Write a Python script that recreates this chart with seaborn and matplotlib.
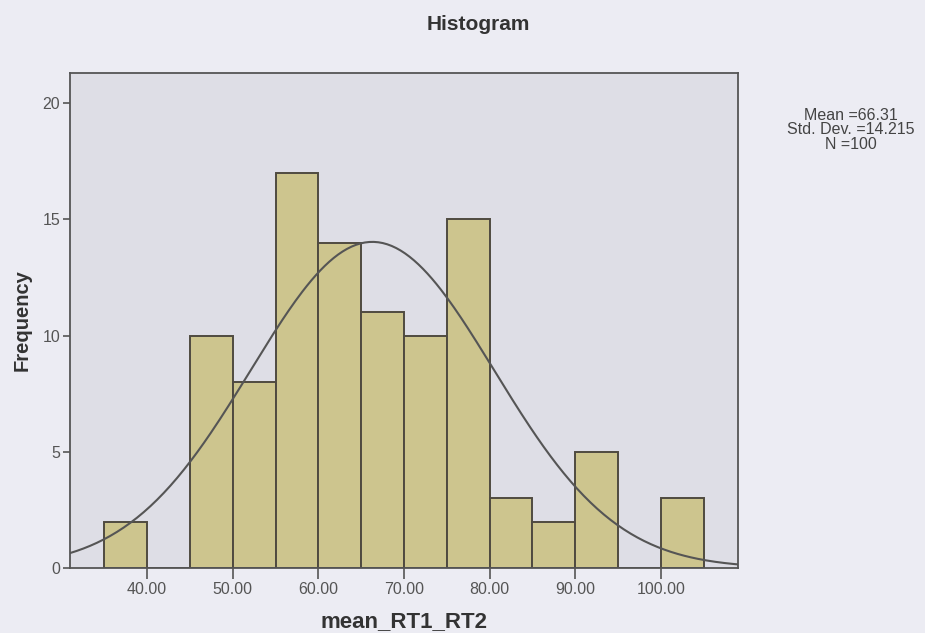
import numpy as np
import pandas as pd
import matplotlib
matplotlib.use('Agg')
import matplotlib.pyplot as plt
import seaborn as sns

# bin edges (width 5) and the frequency in each bin
bin_edges = [35, 40, 45, 50, 55, 60, 65, 70, 75, 80, 85, 90, 95, 100, 105]
counts = [2, 0, 10, 8, 17, 14, 11, 10, 15, 3, 2, 5, 0, 3]
x_ticks = [40, 50, 60, 70, 80, 90, 100]
y_ticks = [0, 5, 10, 15, 20]

mean_val = 66.31
std_val = 14.215
n_val = 100

sns.set_style('white')
plt.rcParams['font.family'] = ['Liberation Sans', 'DejaVu Sans']

bin_width = bin_edges[1] - bin_edges[0]
centers = [e + bin_width / 2 for e in bin_edges[:-1]]
df = pd.DataFrame({'mean_RT1_RT2': centers, 'count': counts})

fig = plt.figure(figsize=(9.25, 6.33), dpi=100, facecolor='#ececf3')
ax = fig.add_axes([0.0757, 0.1027, 0.7221, 0.782])
ax.set_facecolor('#dedee6')

sns.histplot(data=df, x='mean_RT1_RT2', weights='count', bins=bin_edges,
             color='#cdc58e', alpha=1, edgecolor='#4f4a40', linewidth=1.4, ax=ax)

# fitted normal curve, scaled to counts
xs = np.linspace(31, 109, 300)
ys = n_val * bin_width / (std_val * np.sqrt(2 * np.pi)) * np.exp(-0.5 * ((xs - mean_val) / std_val) ** 2)
sns.lineplot(x=xs, y=ys, color='#555555', linewidth=1.5, ax=ax)

ax.set_xlim(31, 109)
ax.set_ylim(0, 21.3)
ax.set_xticks(x_ticks)
ax.set_xticklabels([f'{t:.2f}' for t in x_ticks])
ax.set_yticks(y_ticks)
ax.tick_params(axis='both', direction='out', width=1.2, color='#555555',
               labelsize=11.5, labelcolor='#555555', bottom=True, left=True)
ax.tick_params(axis='x', length=8, pad=2)
ax.tick_params(axis='y', length=5, pad=2)

for s in ax.spines.values():
    s.set_color('#555555')
    s.set_linewidth(1.3)

ax.set_xlabel('mean_RT1_RT2', fontsize=16, fontweight='bold', color='#333333', labelpad=10)
ax.set_ylabel('Frequency', fontsize=14.5, fontweight='bold', color='#333333', labelpad=8)

fig.text(0.517, 0.962, 'Histogram', ha='center', va='center',
         fontsize=15, fontweight='bold', color='#333333')
fig.text(0.92, 0.795, f'Mean ={mean_val}\nStd. Dev. ={std_val}\nN ={n_val}',
         ha='center', va='center', fontsize=11.5, color='#444444', linespacing=0.95)

fig.savefig('out.png', dpi=100, facecolor=fig.get_facecolor())
